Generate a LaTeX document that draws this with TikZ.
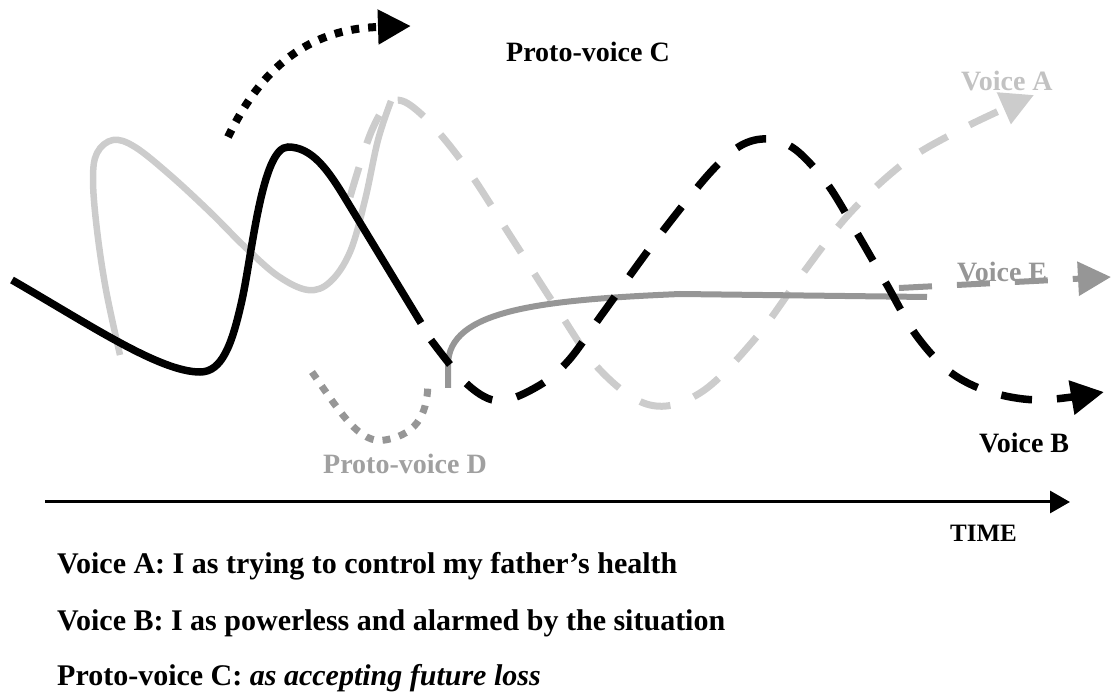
\documentclass[tikz,border=0pt]{standalone}
\usepackage{fontspec}
\setmainfont{Liberation Serif}
\usetikzlibrary{arrows.meta}
\definecolor{lightg}{HTML}{CCCCCC}
\definecolor{lightt}{HTML}{C2C2C2}
\definecolor{midg}{HTML}{969696}
\definecolor{midt}{HTML}{A0A0A0}
\begin{document}
\begin{tikzpicture}[x=1pt,y=-1pt,
  lbl/.style={anchor=base west,inner sep=0pt,font=\fontsize{28}{34}\selectfont\bfseries},
  leg/.style={anchor=base west,inner sep=0pt,font=\fontsize{30}{36}\selectfont\bfseries},
  dashline/.style={dash pattern=on 31pt off 25pt},
  dotline/.style={dash pattern=on 8pt off 9pt},
  bigtip/.style={-{Triangle[length=33pt,width=33pt]}}]
\useasboundingbox (0,0) rectangle (1112,692);

% Voice A (light gray) solid part
\draw[lightg,line width=6.5pt] plot[smooth,tension=0.6] coordinates
  {(120,355) (106,290) (97,230) (93,180) (97,153) (113,140) (135,147) (170,175) (210,212) (245,247) (278,276) (308,290) (330,282) (350,252) (365,200) (378,140) (391,101)};
% Voice A dashed part
\draw[lightg,line width=7pt,dashline,bigtip] plot[smooth,tension=0.6] coordinates
  {(350,197) (372,130) (393,101) (420,113) (463,163) (513,240) (556,307) (600,370) (650,405) (700,393) (754,340) (803,273) (850,213) (904,163) (954,133) (1001,110) (1034,95)};

% Voice E (medium gray)
\draw[midg,line width=6pt] (448,388) -- (448,365) .. controls (448,310) and (540,300) .. (680,294) -- (927,297);
\node[lbl,text=midg] (vE) at (957,282) {Voice E};
\draw[midg,line width=6pt,dash pattern=on 33pt off 25pt,bigtip] (899,288) -- (1111,277);

% Proto-voice D
\draw[midg,line width=7pt,dotline] (312,372) .. controls (340,412) and (360,445) .. (385,440) .. controls (420,434) and (428,410) .. (428,380);

% Voice B solid part
\draw[black,line width=7.5pt] (12,280) .. controls (90,325) and (160,372) .. (200,372)
  .. controls (222,372) and (232,345) .. (242,300)
  .. controls (252,255) and (262,147) .. (288,147)
  .. controls (312,147) and (328,170) .. (345,198) -- (421,323);
% Voice B dashed part
\draw[black,line width=7.5pt,dashline,bigtip] plot[smooth,tension=0.55] coordinates
  {(431,340) (468,385) (500,401) (540,385) (569,360) (603,313) (656,240) (708,175) (740,146) (768,139) (796,150) (828,185) (857,233) (887,285) (916,335) (950,372) (990,392) (1040,400) (1104,392)};

% Proto-voice C (black dotted)
\draw[black,line width=8pt,dotline,bigtip] (228,137) .. controls (252,88) and (292,30) .. (378,27) -- (411,26);

% labels
\node[lbl] (pvC) at (506,62) {Proto-voice C};
\node[lbl,text=lightt] (vA) at (961,91) {Voice A};
\node[lbl] (vB) at (979,453) {Voice B};
\node[lbl,text=midt] (pvD) at (323,474) {Proto-voice D};

% time axis
\coordinate (t0) at (45,502);
\coordinate (t1) at (1070,502);
\draw[line width=3pt,-{Triangle[length=20pt,width=22pt]}] (t0) -- (t1);
\node[lbl,font=\fontsize{25}{30}\selectfont\bfseries] (time) at (950,541) {TIME};

% legend
\node[leg] (legA) at (57,573) {Voice A: I as trying to control my father’s health};
\node[leg] (legB) at (57,630) {Voice B: I as powerless and alarmed by the situation};
\node[leg] (legC) at (57,685) {Proto-voice C: \textit{as accepting future loss}};
\end{tikzpicture}
\end{document}
